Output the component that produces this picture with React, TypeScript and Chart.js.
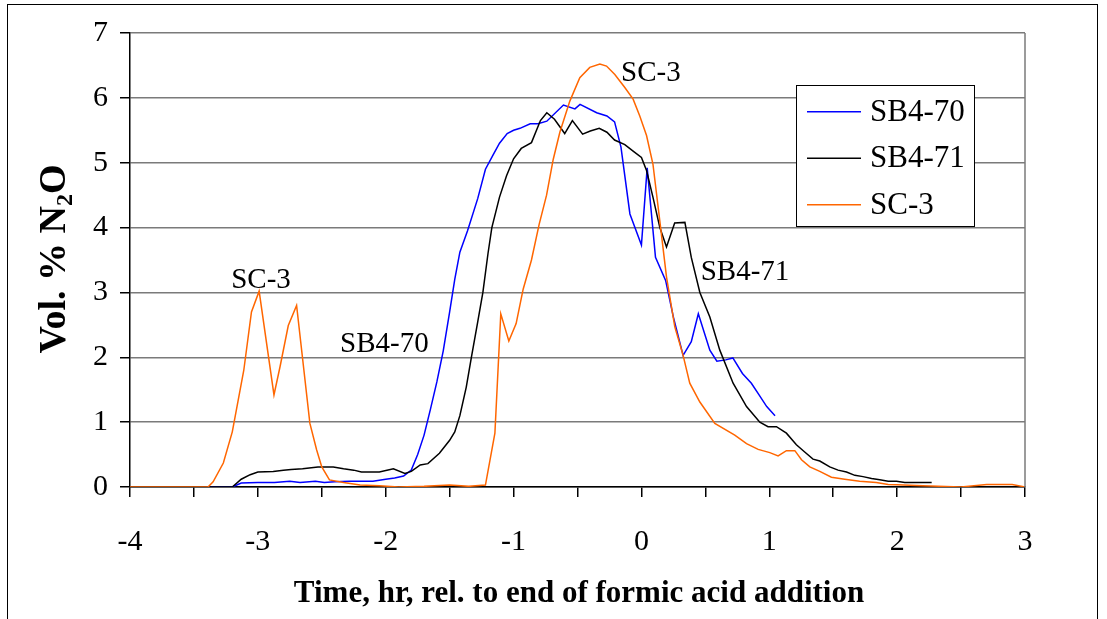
import React, { useEffect, useRef } from 'react';
import { Chart, registerables } from 'chart.js';

Chart.register(...registerables);

// ---- Data (time in hours rel. to end of formic acid addition, Vol. % N2O) ----
const sb470Time = [
  -3.4, -3.2, -3.13, -3.0, -2.87, -2.75, -2.67, -2.55, -2.48, -2.4, -2.28, -2.1, -2.0, -1.93, -1.86,
  -1.8, -1.75, -1.7, -1.65, -1.6, -1.55, -1.5, -1.46, -1.42, -1.36, -1.28, -1.22, -1.16, -1.11, -1.05,
  -1.0, -0.95, -0.87, -0.81, -0.74, -0.61, -0.52, -0.48, -0.35, -0.27, -0.21, -0.16, -0.09, 0.0, 0.045,
  0.11, 0.19, 0.25, 0.326, 0.39, 0.445, 0.535, 0.59, 0.66, 0.715, 0.79, 0.86, 0.92, 0.98, 1.045,
];
const sb470Vol = [
  0, 0, 0.06, 0.07, 0.07, 0.09, 0.07, 0.09, 0.07, 0.08, 0.09, 0.09, 0.12, 0.14, 0.17,
  0.26, 0.5, 0.8, 1.2, 1.62, 2.1, 2.7, 3.2, 3.62, 3.95, 4.45, 4.9, 5.12, 5.3, 5.45,
  5.5, 5.53, 5.6, 5.6, 5.64, 5.89, 5.83, 5.9, 5.77, 5.72, 5.63, 5.24, 4.21, 3.73, 4.92,
  3.54, 3.18, 2.62, 2.03, 2.24, 2.67, 2.11, 1.94, 1.96, 1.99, 1.75, 1.6, 1.42, 1.24, 1.1,
];

const sb471Time = [
  -3.4, -3.2, -3.13, -3.06, -3.0, -2.88, -2.8, -2.74, -2.65, -2.53, -2.41, -2.33, -2.25, -2.19, -2.05,
  -1.94, -1.85, -1.8, -1.73, -1.67, -1.58, -1.5, -1.46, -1.42, -1.37, -1.33, -1.28, -1.24, -1.2, -1.17,
  -1.11, -1.055, -1.0, -0.94, -0.86, -0.79, -0.74, -0.68, -0.6, -0.54, -0.46, -0.4, -0.33, -0.27, -0.21,
  -0.13, -0.065, 0.0, 0.04, 0.09, 0.144, 0.196, 0.26, 0.34, 0.39, 0.457, 0.535, 0.613, 0.717, 0.822,
  0.926, 0.99, 1.056, 1.134, 1.212, 1.277, 1.342, 1.395, 1.473, 1.538, 1.604, 1.669, 1.733, 1.8, 1.864,
  1.93, 1.995, 2.06, 2.27,
];
const sb471Vol = [
  0, 0, 0.12, 0.19, 0.23, 0.24, 0.26, 0.27, 0.28, 0.31, 0.31, 0.28, 0.26, 0.23, 0.23,
  0.28, 0.21, 0.24, 0.34, 0.36, 0.52, 0.72, 0.85, 1.1, 1.54, 2.0, 2.55, 3.0, 3.6, 4.0,
  4.47, 4.8, 5.06, 5.22, 5.31, 5.65, 5.77, 5.67, 5.45, 5.65, 5.44, 5.49, 5.53, 5.47, 5.35,
  5.28, 5.18, 5.08, 4.88, 4.47, 4.0, 3.7, 4.07, 4.08, 3.54, 3.0, 2.62, 2.11, 1.6, 1.24,
  1.0, 0.93, 0.93, 0.83, 0.65, 0.54, 0.43, 0.4, 0.31, 0.26, 0.23, 0.18, 0.16, 0.13, 0.11,
  0.09, 0.09, 0.07, 0.07,
];

const sc3Time = [
  -4.0, -3.39, -3.35, -3.27, -3.2, -3.11, -3.05, -2.99, -2.874, -2.827, -2.762, -2.697, -2.593, -2.54, -2.5,
  -2.44, -2.33, -2.2, -2.05, -1.9, -1.7, -1.5, -1.35, -1.22, -1.146, -1.1, -1.037, -0.98, -0.925, -0.86,
  -0.8, -0.742, -0.69, -0.638, -0.56, -0.482, -0.404, -0.325, -0.273, -0.208, -0.13, -0.065, -0.013, 0.04, 0.09,
  0.15, 0.196, 0.261, 0.326, 0.378, 0.457, 0.574, 0.73, 0.822, 0.913, 1.004, 1.069, 1.134, 1.2, 1.252,
  1.317, 1.395, 1.486, 1.59, 1.707, 1.837, 1.93, 2.0, 2.2, 2.5, 2.7, 2.9, 3.0,
];
const sc3Vol = [
  0, 0, 0.08, 0.37, 0.85, 1.8, 2.7, 3.02, 1.42, 1.85, 2.49, 2.8, 0.98, 0.57, 0.31,
  0.11, 0.07, 0.03, 0.02, 0.0, 0.01, 0.03, 0.01, 0.03, 0.83, 2.67, 2.25, 2.52, 3.05, 3.5,
  4.05, 4.5, 5.05, 5.47, 5.95, 6.31, 6.47, 6.52, 6.49, 6.36, 6.16, 5.98, 5.72, 5.42, 4.98,
  4.0, 3.24, 2.47, 2.03, 1.6, 1.31, 0.98, 0.8, 0.67, 0.58, 0.53, 0.48, 0.56, 0.56, 0.42,
  0.31, 0.24, 0.15, 0.12, 0.09, 0.07, 0.04, 0.035, 0.02, 0.0, 0.04, 0.04, 0.0,
];

const seriesNames = ['SB4-70', 'SB4-71', 'SC-3'];
const seriesColors = ['#0000FF', '#000000', '#FF6600'];

// In-plot curve labels (data coordinates)
const labelTexts = ['SC-3', 'SB4-70', 'SC-3', 'SB4-71'];
const labelTimes = [-2.975, -2.01, 0.074, 0.81];
const labelVols = [3.18, 2.2, 6.38, 3.31];

const xTitle = 'Time, hr, rel. to end of formic acid addition';
const yTitleParts = ['Vol. % N', '2', 'O'];

const SERIF = '"Liberation Serif", "Times New Roman", Times, serif';

function toPoints(xs: number[], ys: number[]) {
  return xs.map((x, i) => ({ x, y: ys[i] }));
}

const decorPlugin = {
  id: 'decor',
  afterDraw(chart: any) {
    const ctx = chart.ctx as CanvasRenderingContext2D;
    const area = chart.chartArea;
    const xs = chart.scales.x;
    const ys = chart.scales.y;
    ctx.save();

    // plot-area right border
    ctx.strokeStyle = '#7a7a7a';
    ctx.lineWidth = 1.5;
    ctx.beginPath();
    ctx.moveTo(area.right, area.top);
    ctx.lineTo(area.right, area.bottom);
    ctx.stroke();

    // outer frame
    ctx.strokeStyle = '#000';
    ctx.lineWidth = 1;
    ctx.strokeRect(7.5, 4.5, 1090, 700);

    // curve labels
    ctx.fillStyle = '#000';
    ctx.font = `29px ${SERIF}`;
    ctx.textAlign = 'center';
    ctx.textBaseline = 'middle';
    labelTexts.forEach((t, i) => {
      ctx.fillText(t, xs.getPixelForValue(labelTimes[i]), ys.getPixelForValue(labelVols[i]));
    });

    // legend
    const lx = 796, ly = 85, lw = 178, lh = 141;
    ctx.fillStyle = '#fff';
    ctx.fillRect(lx, ly, lw, lh);
    ctx.strokeStyle = '#000';
    ctx.lineWidth = 1;
    ctx.strokeRect(lx + 0.5, ly + 0.5, lw, lh);
    const rowY = [111.7, 158.3, 204.7];
    ctx.font = `31px ${SERIF}`;
    ctx.textAlign = 'left';
    ctx.textBaseline = 'middle';
    seriesNames.forEach((name, i) => {
      ctx.strokeStyle = seriesColors[i];
      ctx.lineWidth = 1.5;
      ctx.beginPath();
      ctx.moveTo(807, rowY[i]);
      ctx.lineTo(861, rowY[i]);
      ctx.stroke();
      ctx.fillStyle = '#000';
      ctx.fillText(name, 870, rowY[i] + 1);
    });

    // x title
    ctx.fillStyle = '#000';
    ctx.font = `bold 31px ${SERIF}`;
    ctx.textAlign = 'center';
    ctx.textBaseline = 'middle';
    ctx.fillText(xTitle, 579, 594);

    // y title (rotated, with subscript)
    ctx.translate(52, 259);
    ctx.rotate(-Math.PI / 2);
    const bigFont = `bold 38px ${SERIF}`;
    const subFont = `bold 24px ${SERIF}`;
    ctx.font = bigFont;
    const w0 = ctx.measureText(yTitleParts[0]).width;
    const w2 = ctx.measureText(yTitleParts[2]).width;
    ctx.font = subFont;
    const w1 = ctx.measureText(yTitleParts[1]).width;
    const total = w0 + w1 + w2;
    let cx = -total / 2;
    ctx.textAlign = 'left';
    ctx.textBaseline = 'alphabetic';
    ctx.font = bigFont;
    ctx.fillText(yTitleParts[0], cx, 13);
    cx += w0;
    ctx.font = subFont;
    ctx.fillText(yTitleParts[1], cx, 20);
    cx += w1;
    ctx.font = bigFont;
    ctx.fillText(yTitleParts[2], cx, 13);

    ctx.restore();
  },
};

export default function App() {
  const canvasRef = useRef<HTMLCanvasElement | null>(null);

  useEffect(() => {
    if (!canvasRef.current) return;
    const chart = new Chart(canvasRef.current, {
      type: 'line',
      data: {
        datasets: [
          {
            label: seriesNames[0],
            data: toPoints(sb470Time, sb470Vol),
            borderColor: seriesColors[0],
            backgroundColor: seriesColors[0],
            borderWidth: 1.5,
            pointRadius: 0,
            tension: 0,
            order: 2,
          },
          {
            label: seriesNames[1],
            data: toPoints(sb471Time, sb471Vol),
            borderColor: seriesColors[1],
            backgroundColor: seriesColors[1],
            borderWidth: 1.5,
            pointRadius: 0,
            tension: 0,
            order: 1,
          },
          {
            label: seriesNames[2],
            data: toPoints(sc3Time, sc3Vol),
            borderColor: seriesColors[2],
            backgroundColor: seriesColors[2],
            borderWidth: 1.5,
            pointRadius: 0,
            tension: 0,
            order: 0,
          },
        ],
      },
      options: {
        animation: false,
        responsive: false,
        devicePixelRatio: 1,
        layout: { padding: { left: 0, top: 33, right: 82, bottom: 0 } },
        plugins: {
          legend: { display: false },
          tooltip: { enabled: false },
        },
        scales: {
          x: {
            type: 'linear',
            min: -4,
            max: 3,
            afterFit: (scale: any) => {
              scale.height = 132;
            },
            border: { display: true, color: '#000', width: 1.5 },
            grid: {
              display: true,
              drawOnChartArea: false,
              drawTicks: true,
              tickLength: 10,
              color: '#000',
              lineWidth: 1.5,
            },
            ticks: {
              stepSize: 0.5,
              autoSkip: false,
              maxRotation: 0,
              padding: 27,
              color: '#000',
              font: { family: SERIF, size: 30 },
              callback: (v: any) => (Number.isInteger(Number(v)) ? String(v) : ''),
            },
          },
          y: {
            type: 'linear',
            min: 0,
            max: 7,
            afterFit: (scale: any) => {
              scale.width = 130;
            },
            border: { display: true, color: '#000', width: 1.5 },
            grid: {
              display: true,
              drawOnChartArea: true,
              drawTicks: true,
              tickLength: 10,
              color: '#7a7a7a',
              tickColor: '#000',
              lineWidth: 1.5,
            },
            ticks: {
              stepSize: 1,
              padding: 12,
              color: '#000',
              font: { family: SERIF, size: 30 },
            },
          },
        },
      },
      plugins: [decorPlugin],
    });
    return () => chart.destroy();
  }, []);

  return (
    <div style={{ position: 'fixed', left: 0, top: 0, width: 1107, height: 619, background: '#fff' }}>
      <canvas ref={canvasRef} width={1107} height={619} />
    </div>
  );
}
